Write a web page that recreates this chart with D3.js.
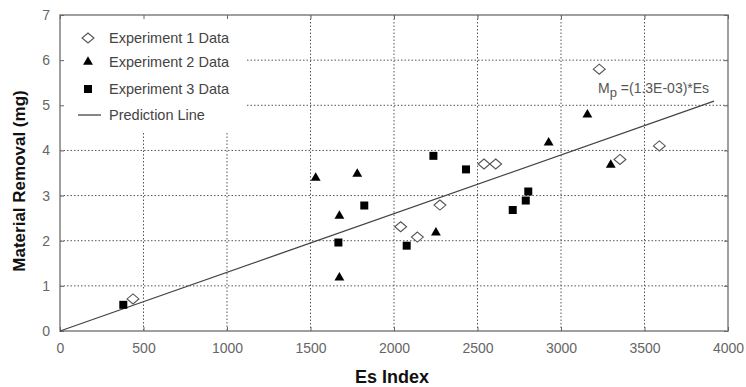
<!DOCTYPE html>
<html><head><meta charset="utf-8">
<script src="https://cdn.jsdelivr.net/npm/d3@7"></script>
<style>body{margin:0;background:#fff;} text{font-family:"Liberation Sans",Arial,sans-serif;}</style>
</head><body><svg id="c" width="746" height="387"></svg>
<script>
const exp1X = [437, 2040, 2140, 2275, 2539, 2609, 3229, 3353, 3589];
const exp1Y = [0.71, 2.31, 2.08, 2.79, 3.70, 3.70, 5.80, 3.80, 4.10];
const exp2X = [1531, 1780, 1673, 1673, 2251, 2926, 3158, 3298];
const exp2Y = [3.39, 3.48, 2.55, 1.18, 2.18, 4.17, 4.79, 3.68];
const exp3X = [379, 1667, 1822, 2076, 2236, 2431, 2711, 2789, 2804];
const exp3Y = [0.58, 1.96, 2.78, 1.89, 3.88, 3.58, 2.68, 2.89, 3.09];
const slope = 1.3e-3;
const lineX = [0, 3916];
const xTicks = [0, 500, 1000, 1500, 2000, 2500, 3000, 3500, 4000];
const yTicks = [0, 1, 2, 3, 4, 5, 6, 7];
const legendLabels = ["Experiment 1 Data", "Experiment 2 Data", "Experiment 3 Data", "Prediction Line"];

const svg = d3.select("#c");
const L = 60, R = 728, T = 15, B = 331;
const x = d3.scaleLinear().domain([0, 4000]).range([L, R]);
const y = d3.scaleLinear().domain([0, 7]).range([B, T]);

// gridlines
const grid = svg.append("g");
xTicks.slice(1, -1).forEach(v => {
  const y1 = v <= 1000 ? 133 : T;
  grid.append("line").attr("x1", x(v)).attr("x2", x(v)).attr("y1", y1).attr("y2", B)
    .attr("stroke", "#555").attr("stroke-width", 1).attr("stroke-dasharray", "1.5,2");
});
yTicks.slice(1, -1).forEach(v => {
  const x1 = v >= 5 ? 247 : L;
  grid.append("line").attr("x1", x1).attr("x2", R).attr("y1", y(v)).attr("y2", y(v))
    .attr("stroke", "#555").attr("stroke-width", 1).attr("stroke-dasharray", "1.5,2");
});

// frame
svg.append("rect").attr("x", L).attr("y", T).attr("width", R - L).attr("height", B - T)
  .attr("fill", "none").attr("stroke", "#888").attr("stroke-width", 1.6);

// axes
const xAx = svg.append("g").attr("transform", `translate(0,${B})`)
  .call(d3.axisBottom(x).tickValues(xTicks).tickSize(-4).tickPadding(12).tickFormat(d3.format("d")));
const yAx = svg.append("g").attr("transform", `translate(${L},0)`)
  .call(d3.axisLeft(y).tickValues(yTicks).tickSize(-4).tickPadding(10).tickFormat(d3.format("d")));
[xAx, yAx].forEach(a => {
  a.select(".domain").remove();
  a.selectAll("line").attr("stroke", "#666");
  a.selectAll("text").attr("fill", "#666").style("font-size", "14px");
});
// top & right ticks
svg.append("g").attr("transform", `translate(0,${T})`)
  .call(d3.axisTop(x).tickValues(xTicks).tickSize(-4).tickFormat(""))
  .call(g => { g.select(".domain").remove(); g.selectAll("line").attr("stroke", "#666"); });
svg.append("g").attr("transform", `translate(${R},0)`)
  .call(d3.axisRight(y).tickValues(yTicks).tickSize(-4).tickFormat(""))
  .call(g => { g.select(".domain").remove(); g.selectAll("line").attr("stroke", "#666"); });

// prediction line
svg.append("line").attr("x1", x(lineX[0])).attr("y1", y(lineX[0] * slope))
  .attr("x2", x(lineX[1])).attr("y2", y(lineX[1] * slope))
  .attr("stroke", "#444").attr("stroke-width", 1.3);

const dia = d3.symbol().type(d3.symbolDiamond).size(29);
const diaT = "scale(2.05,1)";
const tri = d3.symbol().type(d3.symbolTriangle).size(42);
const sq = d3.symbol().type(d3.symbolSquare).size(64);

svg.append("g").selectAll("path").data(exp1X.map((v, i) => [v, exp1Y[i]])).join("path")
  .attr("d", dia)
  .attr("transform", d => `translate(${x(d[0])},${y(d[1])}) ${diaT}`)
  .attr("fill", "#fff").attr("stroke", "#555").attr("stroke-width", 1.1).attr("vector-effect", "non-scaling-stroke");
svg.append("g").selectAll("path").data(exp2X.map((v, i) => [v, exp2Y[i]])).join("path")
  .attr("d", tri).attr("transform", d => `translate(${x(d[0])},${y(d[1])})`).attr("fill", "#000");
svg.append("g").selectAll("path").data(exp3X.map((v, i) => [v, exp3Y[i]])).join("path")
  .attr("d", sq).attr("transform", d => `translate(${x(d[0])},${y(d[1])})`).attr("fill", "#000");

// legend
const lg = svg.append("g");
const ly = [38, 62, 89, 115];
lg.append("path").attr("d", dia)
  .attr("transform", `translate(88,${ly[0]}) ${diaT}`).attr("fill", "#fff").attr("stroke", "#555")
  .attr("stroke-width", 1.1).attr("vector-effect", "non-scaling-stroke");
lg.append("path").attr("d", tri).attr("transform", `translate(88,${ly[1]})`).attr("fill", "#000");
lg.append("path").attr("d", sq).attr("transform", `translate(88,${ly[2]})`).attr("fill", "#000");
lg.append("line").attr("x1", 78).attr("x2", 101).attr("y1", ly[3]).attr("y2", ly[3]).attr("stroke", "#444").attr("stroke-width", 1.3);
legendLabels.forEach((t, i) => {
  lg.append("text").attr("x", 109).attr("y", ly[i]).attr("dy", "0.35em")
    .attr("fill", "#444").style("font-size", "14.5px").text(t);
});

// annotation
const ann = svg.append("text").attr("x", 598).attr("y", 93).attr("fill", "#555").style("font-size", "14px");
ann.append("tspan").text("M");
ann.append("tspan").attr("dy", 4).style("font-size", "13px").text("p");
ann.append("tspan").attr("dy", -4).text(" =(1.3E-03)*Es");

// axis titles
svg.append("text").attr("x", 392).attr("y", 383).attr("text-anchor", "middle")
  .style("font-size", "18px").style("font-weight", "bold").attr("fill", "#111").text("Es Index");
svg.append("text").attr("transform", `translate(25,181) rotate(-90)`).attr("text-anchor", "middle")
  .style("font-size", "17px").style("font-weight", "bold").attr("fill", "#111").text("Material Removal (mg)");
</script></body></html>
